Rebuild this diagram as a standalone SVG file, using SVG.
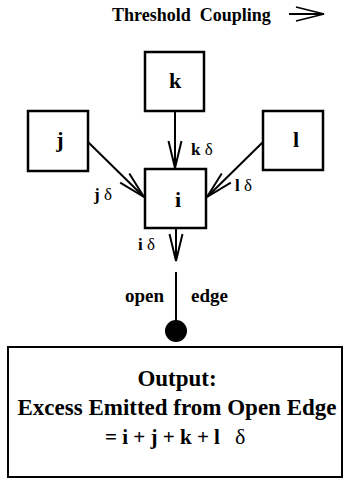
<svg xmlns="http://www.w3.org/2000/svg" width="344" height="480" viewBox="0 0 344 480">
<defs>
<style>
.box{fill:#fff;stroke:#000;stroke-width:2.5}
.ln{fill:none;stroke:#000;stroke-width:2}
.t{font-family:"Liberation Serif","Times New Roman",serif;font-weight:bold;fill:#000}
.d{font-family:"Liberation Serif","Times New Roman",serif;font-weight:normal;fill:#000}
.node{font-size:22px;text-anchor:middle}
.lab{font-size:17px}
</style>
<marker id="ah" markerUnits="userSpaceOnUse" markerWidth="40" markerHeight="20" viewBox="-30 -10 32 20" refX="0" refY="0" orient="auto">
<path d="M-27,-6.5 L0,0 L-27,6.5" fill="none" stroke="#000" stroke-width="2"/>
</marker>
</defs>
<rect width="344" height="480" fill="#fff"/>
<g id="title">
<text class="t" x="112" y="21" font-size="18">Threshold<tspan dx="9">Coupling</tspan></text>
<path d="M289,14 L324,14 M296,7 L324,14 L296,21" fill="none" stroke="#000" stroke-width="1.8"/>
</g>
<g id="connectors">
<line class="ln" x1="175" y1="111" x2="175" y2="168" marker-end="url(#ah)"/>
<line class="ln" x1="88" y1="142" x2="144" y2="197" marker-end="url(#ah)"/>
<line class="ln" x1="263" y1="142" x2="207" y2="197" marker-end="url(#ah)"/>
<line class="ln" x1="176" y1="228" x2="176" y2="261" marker-end="url(#ah)"/>
<line class="ln" x1="176" y1="272" x2="176" y2="322"/>
</g>
<g id="node-k">
<rect class="box" x="145" y="52" width="59" height="59"/>
<text class="t node" x="175" y="88">k</text>
</g>
<g id="node-j">
<rect class="box" x="28" y="111" width="60" height="60"/>
<text class="t node" x="60" y="147">j</text>
</g>
<g id="node-l">
<rect class="box" x="263" y="111" width="60" height="59"/>
<text class="t node" x="296" y="147">l</text>
</g>
<g id="node-i">
<rect class="box" x="145" y="169" width="61" height="59"/>
<text class="t node" x="178" y="207">i</text>
</g>
<g id="labels">
<text class="t lab" x="191" y="155">k <tspan class="d">δ</tspan></text>
<text class="t lab" x="94" y="200">j <tspan class="d">δ</tspan></text>
<text class="t lab" x="235" y="191">l <tspan class="d">δ</tspan></text>
<text class="t lab" x="138" y="250">i <tspan class="d">δ</tspan></text>
<text class="t" x="125" y="302" font-size="19">open</text>
<text class="t" x="191" y="302" font-size="19">edge</text>
</g>
<g id="open-edge">
<circle cx="176" cy="331" r="11" fill="#000"/>
</g>
<g id="output">
<rect x="8" y="347" width="334" height="130" fill="#fff" stroke="#000" stroke-width="2"/>
<text class="t" x="177" y="386" font-size="23" text-anchor="middle">Output:</text>
<text class="t" x="177" y="415" font-size="23" text-anchor="middle">Excess Emitted from Open Edge</text>
<text class="t" x="105" y="444" font-size="21">= i + j + k + l</text>
<text class="d" x="235" y="444" font-size="22">δ</text>
</g>
</svg>
